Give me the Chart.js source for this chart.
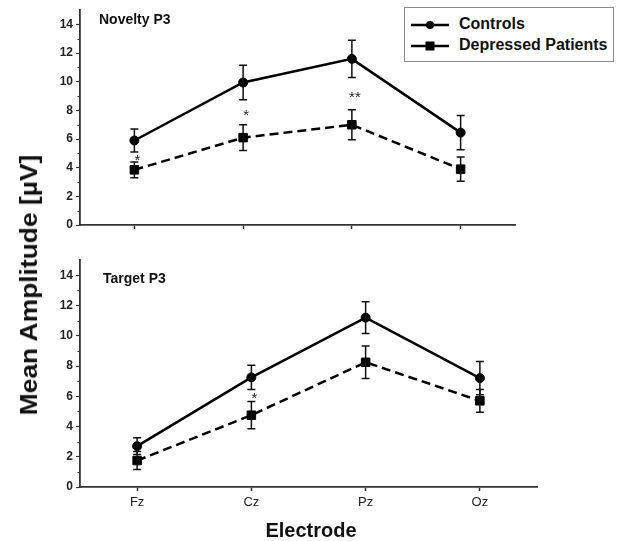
<!DOCTYPE html>
<html>
<head>
<meta charset="utf-8">
<script src="https://cdn.jsdelivr.net/npm/chart.js@4/dist/chart.umd.min.js"></script>
<style>
  body { margin: 0; background: #fff; }
  #wrap { position: relative; width: 618px; height: 541px; overflow: hidden; font-family: 'Liberation Sans', Arial, sans-serif; color: #111; }
  canvas { position: absolute; left: 0; }
  .lbl { position: absolute; white-space: nowrap; font-weight: bold; }
  #legend { position: absolute; left: 404px; top: 7px; width: 208px; height: 53px; border: 1px solid #8a8a8a; background: #fff; }
</style>
</head>
<body>
<div id="wrap">
  <canvas id="novelty" width="618" height="240" style="top:0"></canvas>
  <canvas id="target" width="618" height="270" style="top:250px"></canvas>

  <div class="lbl" style="left:99px; top:12px; font-size:14px; line-height:14px;">Novelty P3</div>
  <div class="lbl" style="left:103px; top:271px; font-size:14px; line-height:14px;">Target P3</div>

  <div id="legend">
    <svg width="50" height="53" style="position:absolute; left:0; top:0">
      <line x1="6" y1="17" x2="44" y2="17" stroke="#000" stroke-width="2.5"/>
      <circle cx="25" cy="17" r="4" fill="#000"/>
      <line x1="6" y1="38" x2="44" y2="38" stroke="#000" stroke-width="2.5"/>
      <rect x="20.5" y="33.5" width="9" height="9" fill="#000"/>
    </svg>
    <div class="lbl" style="left:54px; top:8px; font-size:16px; line-height:16px;">Controls</div>
    <div class="lbl" style="left:54px; top:29px; font-size:16px; line-height:16px;">Depressed Patients</div>
  </div>

  <div class="lbl" style="left:29px; top:285px; font-size:24px; line-height:24px; transform: translate(-50%,-50%) rotate(-90deg) scaleX(1.1);">Mean Amplitude [µV]</div>
  <div class="lbl" style="left:311px; top:520px; font-size:20px; line-height:20px; transform: translateX(-50%);">Electrode</div>
</div>

<script>
const electrodes = ['Fz', 'Cz', 'Pz', 'Oz'];
const yTicks = [0, 2, 4, 6, 8, 10, 12, 14];
const yMinorTicks = [1, 3, 5, 7, 9, 11, 13];

// Novelty P3
const noveltyControls = [5.9, 9.95, 11.6, 6.45];
const noveltyControlsErr = [0.8, 1.2, 1.3, 1.2];
const noveltyPatients = [3.85, 6.1, 7.0, 3.9];
const noveltyPatientsErr = [0.55, 0.9, 1.05, 0.85];
const noveltyStars = [[0, 4.8, '*'], [1, 7.9, '*'], [2, 9.15, '**']];

// Target P3
const targetControls = [2.7, 7.25, 11.2, 7.2];
const targetControlsErr = [0.55, 0.8, 1.05, 1.1];
const targetPatients = [1.75, 4.75, 8.25, 5.7];
const targetPatientsErr = [0.6, 0.9, 1.07, 0.75];
const targetStars = [[1, 6.1, '*']];

const FONT = "'Liberation Sans', Arial, sans-serif";
const AXIS = '#333';

// error bars, minor ticks and significance stars
const extras = {
  id: 'extras',
  afterDatasetsDraw(chart, args, opts) {
    const ctx = chart.ctx;
    const x = chart.scales.x, y = chart.scales.y;
    ctx.save();
    ctx.strokeStyle = '#111';
    ctx.lineWidth = 1.5;
    opts.errors.forEach((err, i) => {
      const meta = chart.getDatasetMeta(i);
      const data = chart.data.datasets[i].data;
      meta.data.forEach((pt, j) => {
        const top = y.getPixelForValue(data[j] + err[j]);
        const bot = y.getPixelForValue(data[j] - err[j]);
        ctx.beginPath();
        ctx.moveTo(pt.x, top); ctx.lineTo(pt.x, bot);
        ctx.moveTo(pt.x - 4, top); ctx.lineTo(pt.x + 4, top);
        ctx.moveTo(pt.x - 4, bot); ctx.lineTo(pt.x + 4, bot);
        ctx.stroke();
      });
    });
    // minor ticks on y axis
    ctx.strokeStyle = AXIS;
    ctx.lineWidth = 1;
    yMinorTicks.forEach(v => {
      const py = Math.round(y.getPixelForValue(v)) + 0.5;
      ctx.beginPath();
      ctx.moveTo(chart.chartArea.left - 2.5, py);
      ctx.lineTo(chart.chartArea.left, py);
      ctx.stroke();
    });
    ctx.fillStyle = '#222';
    ctx.font = '15px ' + FONT;
    ctx.textAlign = 'center';
    ctx.textBaseline = 'alphabetic';
    opts.stars.forEach(s => {
      ctx.fillText(s[2], x.getPixelForValue(s[0]) + 3, y.getPixelForValue(s[1]) + 8.5);
    });
    ctx.restore();
  }
};

function makeChart(id, controls, patients, errs, stars, pad, xHeight, showLabels) {
  return new Chart(document.getElementById(id), {
    type: 'line',
    data: {
      labels: electrodes,
      datasets: [{
        label: 'Controls',
        data: controls,
        borderColor: '#000',
        backgroundColor: '#000',
        borderWidth: 2.5,
        pointStyle: 'circle',
        pointRadius: 4.5,
        pointBorderWidth: 1,
        tension: 0
      }, {
        label: 'Depressed Patients',
        data: patients,
        borderColor: '#000',
        backgroundColor: '#000',
        borderWidth: 2.5,
        borderDash: [9, 5],
        pointStyle: 'rect',
        pointRadius: 6,
        pointBorderWidth: 1,
        tension: 0
      }]
    },
    options: {
      responsive: false,
      animation: false,
      layout: { padding: pad },
      plugins: {
        legend: { display: false },
        tooltip: { enabled: false },
        extras: { errors: errs, stars: stars }
      },
      scales: {
        x: {
          type: 'category',
          offset: true,
          afterFit(s) { s.height = xHeight; },
          grid: { display: true, drawOnChartArea: false, offset: false, tickLength: 4, tickColor: AXIS, tickWidth: 1.5 },
          border: { color: AXIS, width: 1.8 },
          ticks: {
            display: showLabels,
            padding: 4,
            color: '#222',
            font: { family: "'Liberation Sans Narrow', " + FONT, size: 13 }
          }
        },
        y: {
          min: 0,
          max: 15,
          afterFit(s) { s.width = 40; },
          afterBuildTicks(s) { s.ticks = yTicks.map(v => ({ value: v })); },
          grid: { display: true, drawOnChartArea: false, tickLength: 4, tickColor: AXIS, tickWidth: 1.2 },
          border: { color: AXIS, width: 1.8 },
          ticks: {
            padding: 3,
            color: '#222',
            font: { family: FONT, size: 12, weight: 'bold' }
          }
        }
      }
    },
    plugins: [extras]
  });
}

makeChart('novelty', noveltyControls, noveltyPatients,
  [noveltyControlsErr, noveltyPatientsErr], noveltyStars,
  { left: 40, right: 103, top: 6, bottom: 0 }, 15, false);

makeChart('target', targetControls, targetPatients,
  [targetControlsErr, targetPatientsErr], targetStars,
  { left: 40, right: 81, top: 9, bottom: 0 }, 33, true);
</script>
</body>
</html>
